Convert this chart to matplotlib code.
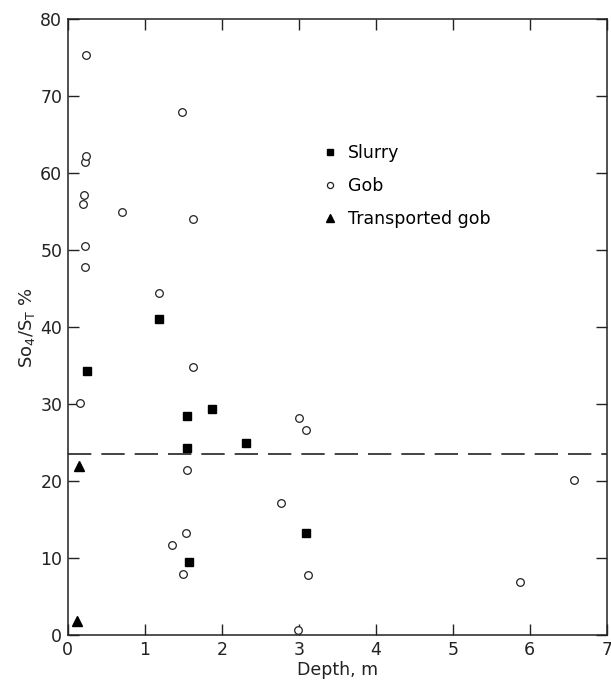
import matplotlib
matplotlib.use("Agg")
import matplotlib.pyplot as plt

plt.rcParams['font.family'] = ['DejaVu Sans']

slurry_x = [1.18, 0.25, 1.55, 1.87, 1.55, 2.31, 3.09, 1.58]
slurry_y = [41.0, 34.3, 28.5, 29.3, 24.3, 24.9, 13.2, 9.5]

gob_x = [0.23, 1.48, 0.22, 0.23, 0.20, 0.21, 0.70, 1.62, 0.22, 0.22, 1.18,
         1.63, 0.16, 1.55, 3.00, 3.09, 2.77, 1.54, 1.35, 1.49, 3.12, 2.99,
         6.57, 5.88]
gob_y = [75.3, 68.0, 61.5, 62.2, 56.0, 57.2, 55.0, 54.0, 50.5, 47.8, 44.4,
         34.8, 30.1, 21.4, 28.2, 26.6, 17.1, 13.2, 11.7, 7.9, 7.8, 0.7,
         20.2, 6.9]

tgob_x = [0.15, 0.12]
tgob_y = [22.0, 1.8]

threshold = 23.5

x_ticks = [0, 1, 2, 3, 4, 5, 6, 7]
y_ticks = [0, 10, 20, 30, 40, 50, 60, 70, 80]

fig = plt.figure(figsize=(6.11, 6.87), dpi=100)
ax = fig.add_axes([0.111, 0.0757, 0.882, 0.8963])

ax.axhline(threshold, color='#222222', lw=1.2, dashes=(14, 6), zorder=1)

ax.plot(slurry_x, slurry_y, ls='none', marker='s', ms=5.5, mfc='black',
        mec='black', label='Slurry', zorder=3)
ax.plot(gob_x, gob_y, ls='none', marker='o', ms=5.5, mfc='white',
        mec='#222222', mew=0.9, label='Gob', zorder=3)
ax.plot(tgob_x, tgob_y, ls='none', marker='^', ms=6.5, mfc='black',
        mec='black', label='Transported gob', zorder=3)

ax.set_xlim(0, 7)
ax.set_ylim(0, 80)
ax.set_xticks(x_ticks)
ax.set_yticks(y_ticks)
ax.tick_params(direction='in', length=8, width=1, top=True, right=True,
               labelsize=12.5, colors='#222222', pad=4)
for s in ax.spines.values():
    s.set_linewidth(1.1)
    s.set_color('#222222')

ax.set_xlabel('Depth, m', fontsize=12.5, color='#222222', labelpad=2)
ax.set_ylabel(r'So$_4$/S$_{\rm T}$ %', fontsize=13, color='#222222', labelpad=2)

leg = ax.legend(loc='upper left', bbox_to_anchor=(0.442, 0.822), frameon=False,
                fontsize=12.5, handletextpad=0.5, labelspacing=0.85,
                handlelength=1.0, markerscale=0.8)

fig.savefig('out.png', dpi=100)
